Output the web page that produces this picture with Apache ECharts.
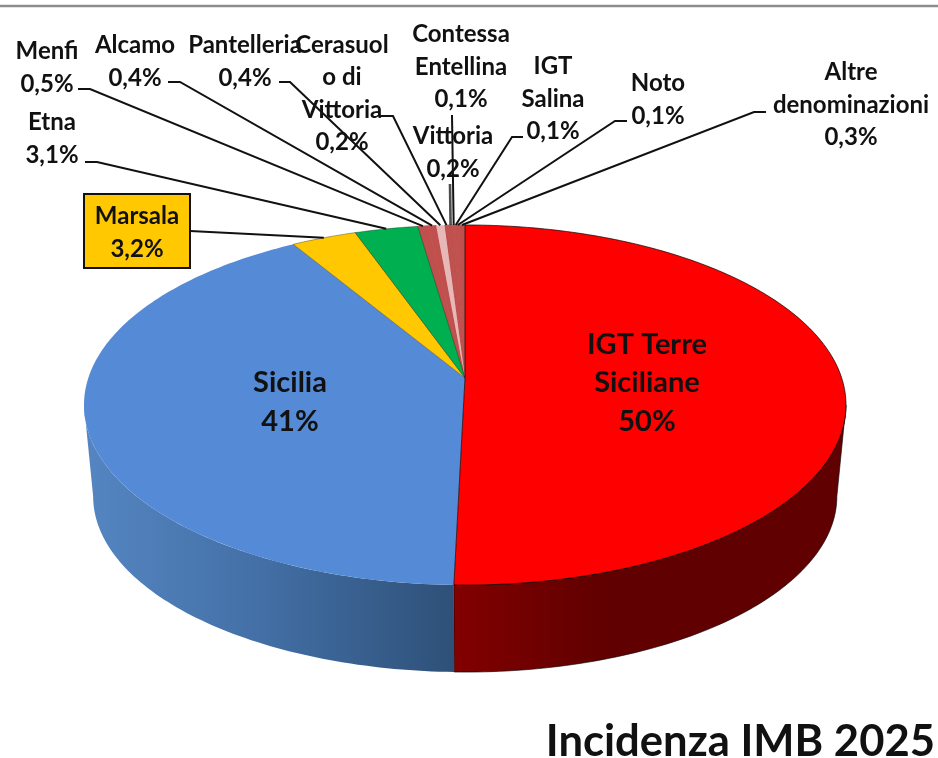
<!DOCTYPE html>
<html>
<head>
<meta charset="utf-8">
<style>html,body{margin:0;padding:0;background:#fff}#c{width:938px;height:758px}</style>
<script src="https://cdn.jsdelivr.net/npm/echarts@6/dist/echarts.min.js"></script>
</head>
<body>
<div id="c"></div>
<script>
// ---- data (shares in %, clockwise from 12 o'clock)
const names = ['IGT Terre\nSiciliane','Sicilia','Marsala','Etna','Menfi','Alcamo','Pantelleria','Cerasuol\no di\nVittoria','Vittoria','Contessa\nEntellina','IGT\nSalina','Noto','Altre\ndenominazioni'];
const shares = [50.4,41.0,3.2,3.1,0.5,0.4,0.4,0.2,0.2,0.1,0.1,0.1,0.3];
const shownLabels = ['50%','41%','3,2%','3,1%','0,5%','0,4%','0,4%','0,2%','0,2%','0,1%','0,1%','0,1%','0,3%'];
const chartTitle = 'Incidenza IMB 2025';

// ---- styles
const topColors = ['#FF0000','#558AD6','#FFC800','#00B050','#C0504D','#C0504D','#E6B9B8','#C0504D','#C0504D','#C0504D','#C0504D','#C0504D','#C0504D'];
const topStrokes = ['rgba(0,0,0,0.85)',null,'rgba(0,0,0,0.4)','rgba(0,0,0,0.4)','#C0504D','#C0504D',null,'#C0504D','#C0504D','#C0504D','#C0504D','#C0504D','#C0504D'];
const topZ = [3,0,1,2,1,1,2,1,1,1,1,1,1];
const wallStops = {
  0:[[0,'#820000'],[0.36,'#620000'],[1,'#600000']],
  1:[[0,'#5586C2'],[0.5,'#426EA4'],[1,'#2E5078']]
};
const wallExtents = {0:[455,846],1:[84,455]};
const FONT = 'Lato, Carlito, "Open Sans", sans-serif';

// ---- layout of the perspective disc
const disc = {cx:465, rx:376.7, ry:176, persp:0.15};
const topPlane = {cy:378, s:1};
const basePlane = {cy:470, s:0.976};
// centre of each label block, leader start/elbow
const labelCentres = [[647,383],[290,402],[137,233],[52,139],[47,68],[135,62],[245,62],[342,94],[453,153],[461,67],[553,99],[658,100],[851,105]];
const leaderElbows = [null,null,[[190,231]],[[85,162],[97,162]],[[78,89],[90,89]],[[168,82],[180,82]],[[279,82],[290,82]],[[380,116],[393,116]],[[450,184]],[[452,115]],[[523,137],[512,137]],[[627,121],[615,121]],[[766,112],[754,112]]];
const insideFont = 29, outsideFont = 24, insideLH = 38.5, outsideLH = 32.5;
const marsalaBox = {x:84,y:194,width:106,height:74};

// ---- geometry through the data
const total = shares.reduce((a,b)=>a+b,0);
const starts = []; shares.reduce((acc,v,i)=>{starts[i]=acc;return acc+v;},0);
const frac2rad = f => f/total*Math.PI*2;
function project(rad, plane){
  const u=Math.sin(rad), v=-Math.cos(rad), w=1-disc.persp*v;
  return [disc.cx+disc.rx*plane.s*u/w, plane.cy+disc.ry*plane.s*v/w];
}
function arc(a0,a1,plane){
  const n=Math.max(2,Math.ceil(Math.abs(a1-a0)/(Math.PI/180))), p=[];
  for(let i=0;i<=n;i++) p.push(project(a0+(a1-a0)*i/n,plane));
  return p;
}
const pieData = shares.map((v,i)=>({name:names[i],value:v}));

function renderWall(params, api){
  const i=params.dataIndex, a0=frac2rad(starts[i]), a1=a0+frac2rad(api.value(0));
  const lo=Math.acos(-disc.persp), hi=Math.PI*2-lo;   // angles of the disc's widest points
  const s=Math.max(a0,lo), e=Math.min(a1,hi);
  if(!(e>s) || !wallStops[i]) return null;
  const pts=arc(s,e,topPlane).concat(arc(s,e,basePlane).reverse());
  const ext=wallExtents[i];
  return {type:'polygon',shape:{points:pts},style:{
    fill:new echarts.graphic.LinearGradient(ext[0],0,ext[1],0,wallStops[i].map(o=>({offset:o[0],color:o[1]})),true),
    stroke:i===0?'rgba(0,0,0,0.75)':null,lineWidth:i===0?0.8:0}};
}
function renderTop(params, api){
  const i=params.dataIndex, a0=frac2rad(starts[i]), a1=a0+frac2rad(api.value(0));
  const pts=[project(0,{cy:topPlane.cy,s:0})].concat(arc(a0,a1,topPlane));
  const st=topStrokes[i];
  return {type:'polygon',z2:topZ[i],shape:{points:pts},style:{
    fill:topColors[i],stroke:st,lineWidth:st?0.8:0}};
}
function renderLabel(params, api){
  const i=params.dataIndex, children=[];
  const inside=i<2, mid=frac2rad(starts[i]+api.value(0)/2);
  const elbows=leaderElbows[i];
  if(elbows){
    children.push({type:'polyline',z2:3,shape:{points:elbows.concat([project(mid,topPlane)])},
      style:{fill:null,stroke:'#111',lineWidth:i===8?2.6:2,opacity:i===8?0.75:1}});
  }
  if(i===2) children.push({type:'rect',z2:4,shape:marsalaBox,style:{fill:'#FFC800',stroke:'#111',lineWidth:2}});
  children.push({type:'text',z2:5,style:{
    text:names[i]+'\n'+shownLabels[i],
    x:labelCentres[i][0],y:labelCentres[i][1],
    align:'center',verticalAlign:'middle',
    fontFamily:FONT,fontWeight:'bold',
    fontSize:inside?insideFont:outsideFont,
    lineHeight:inside?insideLH:outsideLH,
    fill:'#111'}});
  return {type:'group',children};
}

const chart = echarts.init(document.getElementById('c'),null,{renderer:'canvas'});
chart.setOption({
  animation:false,
  backgroundColor:'#fff',
  title:{text:chartTitle,right:-2,top:715,textStyle:{fontFamily:FONT,fontWeight:'bold',fontSize:43.6,color:'#111'}},
  graphic:[{type:'line',shape:{x1:0,y1:6,x2:938,y2:6},style:{stroke:'#8c8c8c',lineWidth:2.4},silent:true}],
  series:[
    {type:'custom',name:'wall',coordinateSystem:'none',silent:true,z:1,data:pieData,renderItem:renderWall},
    {type:'custom',name:'top',coordinateSystem:'none',silent:true,z:2,data:pieData,renderItem:renderTop},
    {type:'custom',name:'labels',coordinateSystem:'none',silent:true,z:3,data:pieData,renderItem:renderLabel}
  ]
});
</script>
</body>
</html>
